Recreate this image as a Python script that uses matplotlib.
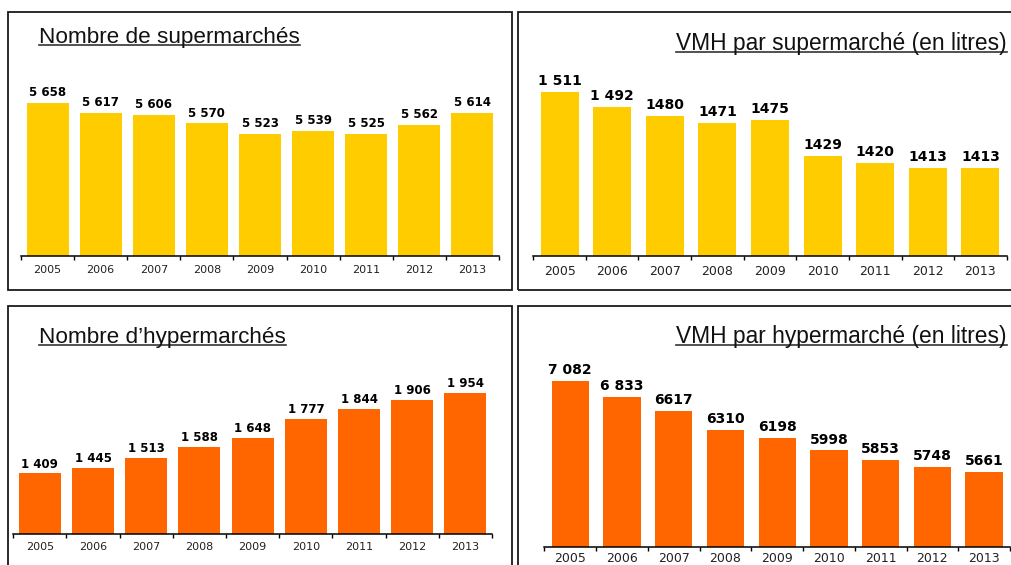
import matplotlib
matplotlib.use("Agg")
import matplotlib.pyplot as plt
from matplotlib.lines import Line2D
from matplotlib.patches import Rectangle

# ---------------- data ----------------
years = ["2005", "2006", "2007", "2008", "2009", "2010", "2011", "2012", "2013"]
nb_supermarches = [5658, 5617, 5606, 5570, 5523, 5539, 5525, 5562, 5614]
vmh_supermarche = [1511, 1492, 1480, 1471, 1475, 1429, 1420, 1413, 1413]
nb_hypermarches = [1409, 1445, 1513, 1588, 1648, 1777, 1844, 1906, 1954]
vmh_hypermarche = [7082, 6833, 6617, 6310, 6198, 5998, 5853, 5748, 5661]

titles = ["Nombre de supermarchés", "VMH par supermarché (en litres)",
          "Nombre d\u2019hypermarchés", "VMH par hypermarché (en litres)"]
# number of leading labels written with a thousands space
spaced_counts = [9, 2, 9, 2]

YELLOW = "#FFCC00"
ORANGE = "#FF6600"

W, H = 1011, 565
fig = plt.figure(figsize=(W / 100, H / 100), dpi=100)


def fx(x):
    return x / W


def fy(y):
    return 1 - y / H


def label(v, spaced):
    return f"{v:,}".replace(",", " ") if spaced else str(v)


panels = [
    dict(vals=nb_supermarches, title=titles[0], color=YELLOW,
         box=(8, 12, 511.5, 289.5), ax=(21, 499, 256, 60), ymin=5000, scale=0.2325,
         width=0.79, tpos=(39, 42.5, "left"), tfs=16.2, lab_fs=8.5, lab_off=5, tick_fs=8,
         pad=6.5, spaced=spaced_counts[0]),
    dict(vals=vmh_supermarche, title=titles[1], color=YELLOW,
         box=(518, 12, 1030, 290), ax=(533.3, 1006.7, 256, 60), ymin=1300, scale=0.7755,
         width=0.72, tpos=(1006.5, 50, "right"), tfs=16.4, lab_fs=10, lab_off=5, tick_fs=9,
         pad=6.5, spaced=spaced_counts[1]),
    dict(vals=nb_hypermarches, title=titles[2], color=ORANGE,
         box=(8, 305.7, 511.5, 590), ax=(13.3, 492, 533.7, 350), ymin=1000, scale=0.148,
         width=0.79, tpos=(39, 343.3, "left"), tfs=16.2, lab_fs=8.5, lab_off=4, tick_fs=8,
         pad=6.3, spaced=spaced_counts[2]),
    dict(vals=vmh_hypermarche, title=titles[3], color=ORANGE,
         box=(518, 305.7, 1030, 590), ax=(544.3, 1010, 546.7, 350), ymin=4500, scale=0.06425,
         width=0.72, tpos=(1006.7, 343.3, "right"), tfs=16.4, lab_fs=10, lab_off=5, tick_fs=9,
         pad=4, spaced=spaced_counts[3]),
]

title_texts = []
for p in panels:
    x0, y0, x1, y1 = p["box"]
    fig.add_artist(Rectangle((fx(x0), fy(y1)), (x1 - x0) / W, (y1 - y0) / H,
                             transform=fig.transFigure, fill=False,
                             edgecolor="#1a1a1a", linewidth=1.3, zorder=0))

    ax0, ax1, ybase, ytop = p["ax"]
    ax = fig.add_axes([fx(ax0), fy(ybase), (ax1 - ax0) / W, (ybase - ytop) / H])
    ax.patch.set_alpha(0)
    xs = list(range(len(years)))
    ax.bar(xs, p["vals"], width=p["width"], color=p["color"],
           bottom=0, zorder=2)
    ax.set_xlim(-0.5, len(years) - 0.5)
    ax.set_ylim(p["ymin"], p["ymin"] + (ybase - ytop) / p["scale"])
    for s in ("top", "left", "right"):
        ax.spines[s].set_visible(False)
    ax.spines["bottom"].set_color("black")
    ax.spines["bottom"].set_linewidth(1.1)
    ax.set_yticks([])
    ax.set_xticks(xs)
    ax.set_xticklabels(years, fontsize=p["tick_fs"], color="#222222",
                       family="DejaVu Sans")
    ax.tick_params(axis="x", which="major", length=0, pad=p["pad"])
    ax.set_xticks([i - 0.5 for i in range(len(years) + 1)], minor=True)
    ax.tick_params(axis="x", which="minor", length=3, width=1.0, color="black",
                   direction="out")
    for i, v in enumerate(p["vals"]):
        ax.annotate(label(v, i < p["spaced"]), (i, v), xytext=(0, p["lab_off"]),
                    textcoords="offset points", ha="center", va="baseline",
                    fontsize=p["lab_fs"], fontweight="bold", color="black",
                    family="DejaVu Sans")

    tx, tyb, ha = p["tpos"]
    t = fig.text(fx(tx), fy(tyb), p["title"], ha=ha, va="baseline",
                 fontsize=p["tfs"], family="Liberation Sans", color="#111111")
    title_texts.append((t, tyb))

fig.canvas.draw()
renderer = fig.canvas.get_renderer()
for t, tyb in title_texts:
    bb = t.get_window_extent(renderer)
    yl = fy(tyb + 2)
    fig.add_artist(Line2D([bb.x0 / W, bb.x1 / W], [yl, yl], transform=fig.transFigure,
                          color="#333333", linewidth=1.2))

fig.savefig("out.png", dpi=100)
